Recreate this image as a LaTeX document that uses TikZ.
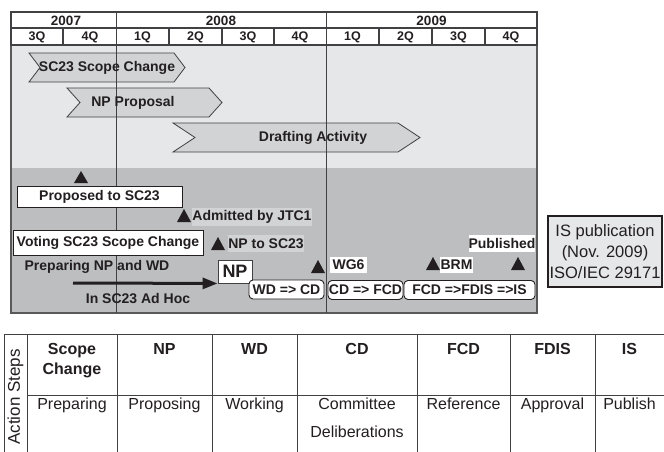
\documentclass[tikz,border=0pt]{standalone}
\usepackage{fontspec}
\setmainfont{Liberation Sans}
\usetikzlibrary{arrows.meta}
\definecolor{lightbg}{HTML}{E6E7E8}
\definecolor{darkbg}{HTML}{BCBEC0}
\definecolor{chev}{HTML}{D1D3D4}
\definecolor{lineg}{HTML}{414042}
\definecolor{tri}{HTML}{231F20}
\begin{document}
\begin{tikzpicture}[x=1pt,y=-1pt,
  lbl/.style={font=\bfseries\fontsize{14}{16}\selectfont, text=tri, inner sep=0pt},
  yearlbl/.style={font=\bfseries\fontsize{13.5}{15}\selectfont, text=tri, inner sep=0pt},
  qlbl/.style={font=\bfseries\fontsize{12.5}{13}\selectfont, text=tri, inner sep=0pt},
  chevron/.style={draw=lineg, fill=chev, line width=0.8pt},
  whitebox/.style={draw=tri, fill=white, line width=0.9pt, inner sep=0pt, font=\bfseries\fontsize{14}{16}\selectfont, text=tri},
  roundbox/.style={whitebox, rounded corners=4pt},
  tag/.style={fill=#1, inner sep=0pt, font=\bfseries\fontsize{14}{16}\selectfont, text=tri},
  milestone/.style={fill=tri},
  grid/.style={draw=lineg, line width=1.3pt},
  tgrid/.style={draw=lineg, line width=1pt},
  thead/.style={font=\bfseries\fontsize{16}{20}\selectfont, text=tri, align=center, inner sep=0pt, anchor=north},
  tbody/.style={font=\fontsize{16}{28}\selectfont, text=tri, align=center, inner sep=0pt, anchor=north}
]
\useasboundingbox (0,0) rectangle (664,452);
\fill[white] (0,0) rectangle (664,452);
% chart backgrounds
\fill[lightbg] (11,45) rectangle (537,168);
\fill[darkbg] (11,168) rectangle (537,313);
\draw[draw=gray!70!black, line width=1.2pt] (11,45) rectangle (537,313);
% header
\fill[white] (11,12) rectangle (537,45);
\draw[grid] (11,12) rectangle (537,45);
\draw[grid] (11,28) -- (537,28);
\foreach \qx in {63,169,222,274,379,432,485} \draw[grid] (\qx,28) -- (\qx,45);
\node[yearlbl] (y7) at (66,20.5) {2007};
\node[yearlbl] (y8) at (221,20.5) {2008};
\node[yearlbl] (y9) at (431.5,20.5) {2009};
\foreach \qc/\qt [count=\i] in {37/3Q,90/4Q,142.5/1Q,195.5/2Q,248/3Q,300/4Q,352.5/1Q,405.5/2Q,458.5/3Q,511/4Q}
  \node[qlbl] (q\i) at (\qc,37) {\qt};
% chevrons
\draw[chevron] (29,53) -- (174,53) -- (185,67.5) -- (174,82) -- (29,82) -- (40,67.5) -- cycle;
\draw[chevron] (67,88) -- (209,88) -- (222,102.5) -- (209,117) -- (67,117) -- (80,102.5) -- cycle;
\draw[chevron] (173,123) -- (398,123) -- (420,137.5) -- (398,152) -- (173,152) -- (195,137.5) -- cycle;
% year separators
\draw[lineg, line width=1pt] (116,12) -- (116,313);
\draw[lineg, line width=1pt] (326,12) -- (326,313);
\node[lbl] (scope) at (107,67.5) {SC23 Scope Change};
\node[lbl] (npprop) at (133,102.5) {NP Proposal};
\node[lbl] (draft) at (313,137.5) {Drafting Activity};
% milestones
\fill[milestone] (74,183) -- (81,171) -- (88,183) -- cycle;
\fill[milestone] (177,222) -- (184,209) -- (191,222) -- cycle;
\fill[milestone] (211,250) -- (218,237) -- (225,250) -- cycle;
\fill[milestone] (311,273) -- (318,260) -- (325,273) -- cycle;
\fill[milestone] (426,270) -- (433,257) -- (440,270) -- cycle;
\fill[milestone] (511,270) -- (518,257) -- (525,270) -- cycle;
% boxes
\node[whitebox, minimum width=165pt, minimum height=21pt] (prop) at (99.5,196.5) {Proposed to SC23};
\node[whitebox, minimum width=190pt, minimum height=25pt] (vote) at (108,242.5) {Voting SC23 Scope Change};
\node[tag=chev, minimum width=120pt, minimum height=18pt] (adm) at (252,217) {Admitted by JTC1};
\node[tag=chev, minimum width=76pt, minimum height=17pt] (npsc) at (266,243.5) {NP to SC23};
\node[tag=white, minimum width=37pt, minimum height=16pt] (wg6) at (348.5,265) {WG6};
\node[tag=white, minimum width=33pt, minimum height=16pt] (brm) at (456.5,265) {BRM};
\node[tag=white, minimum width=66pt, minimum height=17pt] (pub) at (502,243.5) {Published};
\node[lbl] (prep) at (97,267) {Preparing NP and WD};
\node[lbl] (adhoc) at (138,299) {In SC23 Ad Hoc};
\node[whitebox, draw=lineg, minimum width=34pt, minimum height=23pt, font=\bfseries\fontsize{18}{19}\selectfont] (npbox) at (235,271.5) {NP};
\node[roundbox, minimum width=75pt, minimum height=19pt] (wdcd) at (286.5,289.5) {WD => CD};
\node[roundbox, minimum width=75pt, minimum height=19pt] (cdfcd) at (365.5,290) {CD => FCD};
\node[roundbox, minimum width=131pt, minimum height=19pt] (fcdis) at (469.5,290) {FCD =>FDIS =>IS};
\coordinate (arrs) at (73,283);
\draw[tri, line width=3pt, -{Triangle[length=15pt,width=11pt]}] (arrs) -- (npbox.south west);
% IS publication box
\node[draw=tri, fill=lightbg, line width=1.8pt, minimum width=114pt, minimum height=71pt, inner sep=0pt,
  align=center, font=\fontsize{16.5}{21}\selectfont, text=tri] (ispub) at (605,251.5) {IS publication\\(Nov. 2009)\\ISO/IEC 29171};
% table
\draw[tgrid] (4,334) -- (664,334);
\draw[tgrid] (27,395) -- (664,395);
\foreach \tx in {4,27,117,212,297,417,510,595} \draw[tgrid] (\tx,334) -- (\tx,452);
\node[rotate=90, font=\fontsize{17}{18}\selectfont, text=tri, inner sep=0pt] (act) at (15.5,397) {Action Steps};
\node[thead] (h1) at (72,343) {Scope\\Change};
\node[thead] (h2) at (164.5,343) {NP};
\node[thead] (h3) at (254.5,343) {WD};
\node[thead] (h4) at (357,343) {CD};
\node[thead] (h5) at (463.5,343) {FCD};
\node[thead] (h6) at (552.5,343) {FDIS};
\node[thead] (h7) at (629.5,343) {IS};
\node[tbody] (b1) at (72,398) {Preparing};
\node[tbody] (b2) at (164.5,398) {Proposing};
\node[tbody] (b3) at (254.5,398) {Working};
\node[tbody] (b4) at (357,398) {Committee\\Deliberations};
\node[tbody] (b5) at (463.5,398) {Reference};
\node[tbody] (b6) at (552.5,398) {Approval};
\node[tbody] (b7) at (629.5,398) {Publish};
\end{tikzpicture}
\end{document}
